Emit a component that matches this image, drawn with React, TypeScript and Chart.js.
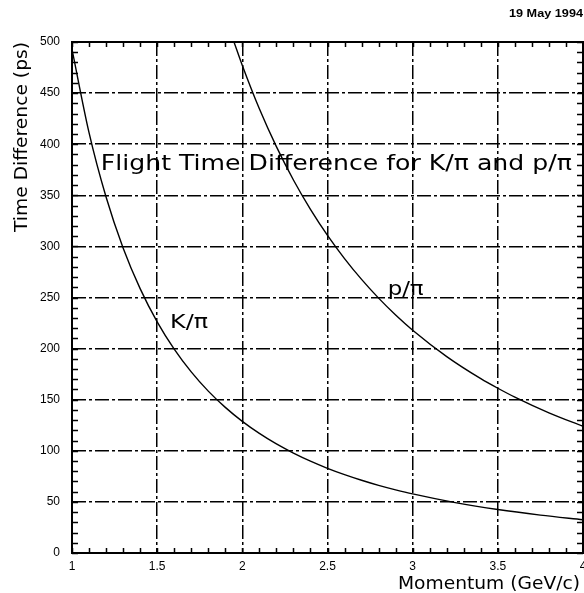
import React, { useEffect, useRef } from "react";
import { Chart, registerables } from "chart.js";

Chart.register(...registerables);

// K/pi flight time difference (ps) vs momentum (GeV/c)
const momentumK = [1.0, 1.1, 1.2, 1.3, 1.4, 1.5, 1.6, 1.7, 1.8, 1.9, 2.0, 2.1, 2.2, 2.3, 2.4, 2.5, 2.6, 2.7, 2.8, 2.9, 3.0, 3.25, 3.5, 3.75, 4.0];
const diffK = [492.8, 411.3, 348.3, 298.5, 258.7, 226.2, 199.5, 177.2, 158.4, 142.5, 128.8, 117.0, 106.7, 97.8, 89.9, 82.9, 76.7, 71.2, 66.2, 61.8, 57.8, 49.3, 42.5, 37.1, 32.6];

// p/pi flight time difference (ps) vs momentum (GeV/c)
const momentumP = [1.95, 2.0, 2.1, 2.2, 2.3, 2.4, 2.5, 2.6, 2.7, 2.8, 2.9, 3.0, 3.2, 3.4, 3.5, 3.6, 3.8, 4.0];
const diffP = [500.5, 477.0, 434.6, 397.6, 365.0, 336.3, 310.8, 288.1, 267.7, 249.4, 232.9, 218.0, 192.2, 170.6, 161.2, 152.5, 137.1, 123.9];

const xMin = 1;
const xMax = 4;
const xStep = 0.5;
const xMinorStep = 0.1;
const yMin = 0;
const yMax = 500;
const yStep = 50;
const yMinorStep = 10;

const titleText = "Flight Time Difference for K/\u03c0 and p/\u03c0";
const xTitle = "Momentum (GeV/c)";
const yTitle = "Time Difference (ps)";
const dateText = "19 May 1994";
const labelK = "K/\u03c0";
const labelP = "p/\u03c0";

// draw text stretched horizontally to a given width
function fitText(ctx: CanvasRenderingContext2D, text: string, x: number, y: number, width: number, font: string) {
  ctx.save();
  ctx.font = font;
  const w = ctx.measureText(text).width;
  const k = width / w;
  ctx.translate(x, y);
  ctx.scale(k, 1);
  ctx.fillStyle = "#000";
  ctx.textAlign = "left";
  ctx.textBaseline = "alphabetic";
  ctx.fillText(text, 0, 0);
  ctx.restore();
}

const decorPlugin = {
  id: "decor",
  afterDatasetsDraw(chart: any) {
    const { ctx, chartArea } = chart;
    const xs = chart.scales.x;
    const ys = chart.scales.y;
    const { left, right, top, bottom } = chartArea;
    ctx.save();
    ctx.strokeStyle = "#000";
    ctx.lineWidth = 1.5;
    ctx.setLineDash([]);
    ctx.beginPath();
    for (let v = xMin; v <= xMax + 1e-9; v += xMinorStep) {
      const px = Math.round(xs.getPixelForValue(v)) + 0.5;
      ctx.moveTo(px, bottom);
      ctx.lineTo(px, bottom - 5);
      ctx.moveTo(px, top);
      ctx.lineTo(px, top + 5);
    }
    for (let v = yMin; v <= yMax + 1e-9; v += yMinorStep) {
      const py = Math.round(ys.getPixelForValue(v)) + 0.5;
      ctx.moveTo(left, py);
      ctx.lineTo(left + 6, py);
      ctx.moveTo(right, py);
      ctx.lineTo(right - 6, py);
    }
    ctx.stroke();
    ctx.lineWidth = 2;
    ctx.strokeRect(left, top, right - left, bottom - top);
    ctx.restore();

    fitText(ctx, titleText, xs.getPixelForValue(1.169), ys.getPixelForValue(374.8), 471, "21px 'DejaVu Sans'");
    fitText(ctx, labelK, xs.getPixelForValue(1.576), ys.getPixelForValue(220), 38, "19px 'DejaVu Sans'");
    fitText(ctx, labelP, xs.getPixelForValue(2.853), ys.getPixelForValue(252), 36, "19px 'DejaVu Sans'");

    fitText(ctx, xTitle, 398, 589, 182, "17px 'DejaVu Sans'");
    ctx.save();
    ctx.translate(27, 137);
    ctx.rotate(-Math.PI / 2);
    fitText(ctx, yTitle, -95, 0, 190, "17px 'DejaVu Sans'");
    ctx.restore();

    fitText(ctx, dateText, 509, 17, 74, "bold 11px 'Liberation Sans'");
  },
};

export default function App() {
  const ref = useRef<HTMLCanvasElement | null>(null);

  useEffect(() => {
    if (!ref.current) return;
    const chart = new Chart(ref.current, {
      type: "line",
      data: {
        datasets: [
          {
            label: "K/pi",
            data: momentumK.map((m, i) => ({ x: m, y: diffK[i] })),
            borderColor: "#000",
            borderWidth: 1.4,
            pointRadius: 0,
            cubicInterpolationMode: "monotone",
            fill: false,
          },
          {
            label: "p/pi",
            data: momentumP.map((m, i) => ({ x: m, y: diffP[i] })),
            borderColor: "#000",
            borderWidth: 1.4,
            pointRadius: 0,
            cubicInterpolationMode: "monotone",
            fill: false,
          },
        ],
      },
      options: {
        animation: false,
        responsive: false,
        devicePixelRatio: 1,
        layout: { padding: { top: 42, right: 1, left: 0, bottom: 0 } },
        plugins: { legend: { display: false }, title: { display: false }, tooltip: { enabled: false } },
        scales: {
          x: {
            type: "linear",
            min: xMin,
            max: xMax,
            afterFit: (s: any) => {
              s.height = 40;
              s.paddingLeft = 0;
              s.paddingRight = 0;
            },
            ticks: {
              stepSize: xStep,
              color: "#000",
              padding: 6,
              maxRotation: 0,
              callback: (v: any) => String(Number(v)),
              font: { family: "'Liberation Sans'", size: 12 },
            },
            grid: { color: "#000", lineWidth: 1.5, drawTicks: false },
            border: { display: false, dash: [14, 3, 3, 3] },
          },
          y: {
            type: "linear",
            min: yMin,
            max: yMax,
            afterFit: (s: any) => {
              s.width = 72;
              s.paddingTop = 0;
              s.paddingBottom = 0;
            },
            ticks: {
              stepSize: yStep,
              color: "#000",
              padding: 12,
              font: { family: "'Liberation Sans'", size: 12 },
            },
            grid: { color: "#000", lineWidth: 1.5, drawTicks: false },
            border: { display: false, dash: [14, 3, 3, 3] },
          },
        },
      },
      plugins: [decorPlugin],
    });
    return () => chart.destroy();
  }, []);

  return (
    <div style={{ position: "absolute", left: 0, top: 0, width: 584, height: 593, background: "#fff" }}>
      <canvas ref={ref} width={584} height={593} style={{ display: "block" }} />
    </div>
  );
}
